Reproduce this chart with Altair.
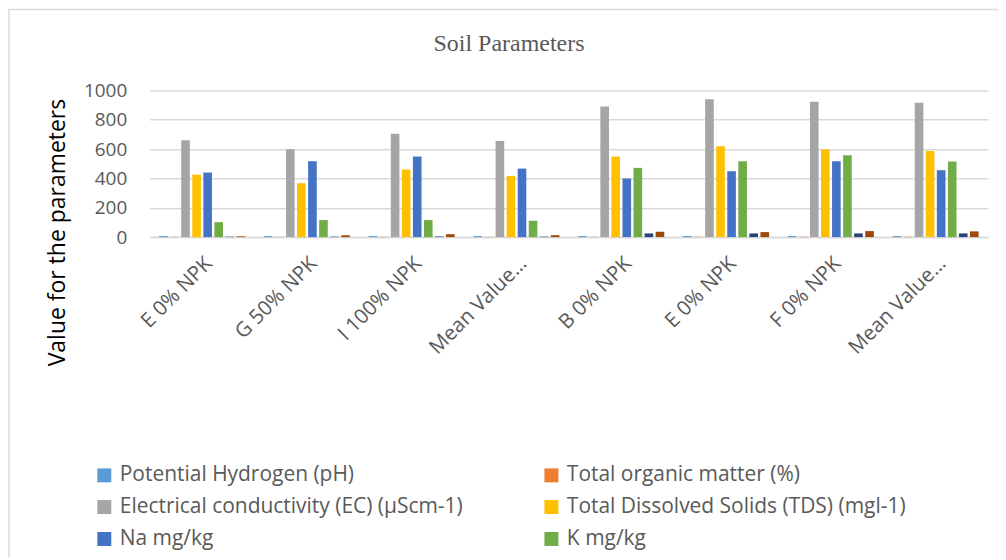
import json
import altair as alt
import pandas as pd

categories = ["E 0% NPK", "G 50% NPK", "I 100% NPK", "Mean Value…",
              "B 0% NPK", "E 0% NPK", "F 0% NPK", "Mean Value…"]
series = ["Potential Hydrogen (pH)", "Total organic matter (%)",
          "Electrical conductivity (EC) (µScm-1)", "Total Dissolved Solids (TDS) (mgl-1)",
          "Na mg/kg", "K mg/kg", "P mg/kg", "Mg mg/kg"]
colors = ["#5B9BD5", "#ED7D31", "#A5A5A5", "#FFC000", "#4472C4", "#70AD47", "#264478", "#9E480E"]

ph = [7.2, 7.0, 6.9, 7.0, 7.1, 7.3, 7.2, 7.2]
tom = [1.5, 1.8, 2.0, 1.8, 2.2, 2.4, 2.3, 2.3]
ec = [660, 599, 705, 655, 891, 939, 923, 916]
tds = [426, 367, 460, 417, 549, 619, 599, 587]
na = [440, 517, 549, 467, 399, 449, 517, 456]
k = [102, 116, 116, 111, 472, 517, 558, 515]
p = [3, 3, 4, 3, 25, 25, 25, 25]
mg = [5, 12, 20, 13, 36, 34, 41, 39]

values = [ph, tom, ec, tds, na, k, p, mg]
rows = []
for s, vals in zip(series, values):
    for i, v in enumerate(vals):
        rows.append({"idx": i, "series": s, "value": v})
df = pd.DataFrame(rows)

label_expr = json.dumps(categories, ensure_ascii=False) + "[datum.value]"

bars = alt.Chart(df).mark_bar().encode(
    x=alt.X("idx:O", title=None,
            scale=alt.Scale(paddingInner=0.156, paddingOuter=0.078),
            axis=alt.Axis(labelExpr=label_expr, labelAngle=-45, labelFont="Open Sans",
                          labelFontSize=20.5, labelColor="#595959", labelPadding=16,
                          ticks=False, domainColor="#d9d9d9", domainWidth=1.5)),
    xOffset=alt.XOffset("series:N", sort=series,
                        scale=alt.Scale(paddingInner=0.22, paddingOuter=0.11)),
    y=alt.Y("value:Q", title="Value for the parameters",
            scale=alt.Scale(domain=[0, 1000], nice=False),
            axis=alt.Axis(values=[0, 200, 400, 600, 800, 1000], format="d",
                          labelFont="Open Sans",
                          labelFontSize=19, labelColor="#595959", labelPadding=23,
                          ticks=False, domain=False, gridColor="#d9d9d9", gridWidth=1.5,
                          titleFont="Open Sans", titleFontSize=23, titleColor="#000000",
                          titleFontWeight="normal", titleX=-85, titleY=142,
                          titleAngle=-90, titleAlign="center", titleBaseline="alphabetic")),
    color=alt.Color("series:N", sort=series,
                    scale=alt.Scale(domain=series, range=colors),
                    legend=alt.Legend(title=None, values=series[:6], orient="none",
                                      direction="horizontal",
                                      legendX=-56, legendY=375, columns=2,
                                      symbolType="square", symbolSize=196,
                                      symbolStrokeWidth=0, labelFont="Open Sans",
                                      labelFontSize=21, labelColor="#595959",
                                      labelOffset=5, rowPadding=10, columnPadding=78,
                                      labelLimit=600)),
)

border = alt.Chart(pd.DataFrame({"a": [0]})).mark_rect(
    fill=None, stroke="#d9d9d9", strokeWidth=1.5
).encode(x=alt.value(-141), x2=alt.value(900), y=alt.value(-81), y2=alt.value(700))

chart = alt.layer(border, bars).properties(
    width=840, height=147,
    title=alt.TitleParams("Soil Parameters", font="Liberation Serif", fontSize=24,
                          color="#595959", fontWeight="normal", dx=-60, offset=-66,
                          baseline="alphabetic"),
    autosize=alt.AutoSizeParams(type="none"),
    padding={"left": 142, "top": 82, "right": 10, "bottom": 320},
).configure_view(stroke=None)

chart.save("out.html", embed_options={"renderer": "svg", "actions": False})
